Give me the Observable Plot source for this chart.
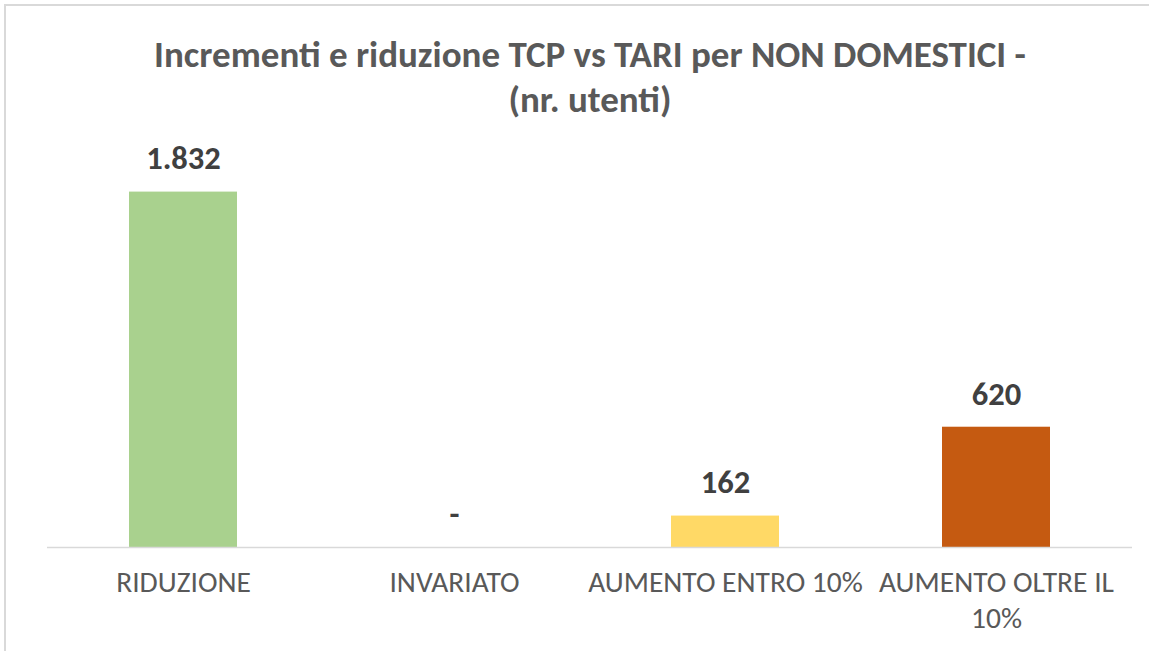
<!DOCTYPE html>
<html>
<head>
<meta charset="utf-8">
<script src="https://cdn.jsdelivr.net/npm/d3@7"></script>
<script src="https://cdn.jsdelivr.net/npm/@observablehq/plot@0.6"></script>
<style>
  html, body { margin: 0; padding: 0; background: #fff; }
  #wrap { position: relative; width: 1149px; height: 651px; overflow: hidden; font-family: Calibri, Carlito, Lato, "Open Sans", sans-serif; }
  #frame { position: absolute; left: 4px; top: 4px; right: -10px; bottom: -10px; border-top: 2px solid #d9d9d9; border-left: 2px solid #d9d9d9; }
  #title { position: absolute; left: 0; top: 32px; width: 1180px; text-align: center; color: #595959; font-weight: 700; font-size: 37px; line-height: 45px; white-space: nowrap; }
  #chart { position: absolute; left: 0; top: 130px; }
</style>
</head>
<body>
<div id="wrap">
  <div id="frame"></div>
  <div id="title">Incrementi e riduzione TCP vs TARI per NON DOMESTICI -<br>(nr. utenti)</div>
  <div id="chart"></div>
</div>
<script>
const categories = ["RIDUZIONE", "INVARIATO", "AUMENTO ENTRO 10%", "AUMENTO OLTRE IL\n10%"];
const values = [1832, 0, 162, 620];
const colors = ["#A9D18E", "#A9D18E", "#FFD966", "#C55A11"];

const data = categories.map((c, i) => ({category: c, value: values[i], color: colors[i]}));
const it = d3.formatLocale({decimal: ",", thousands: ".", grouping: [3], currency: ["", " €"]});
const fmt = v => v === 0 ? "-" : it.format(",d")(v);

const chart = Plot.plot({
  width: 1149,
  height: 521,
  marginLeft: 47,
  marginRight: 17,
  marginTop: 29,
  marginBottom: 104,
  style: {fontFamily: "Calibri, Carlito, Lato, 'Open Sans', sans-serif", color: "#595959", background: "transparent"},
  x: {domain: categories, paddingInner: 0.6, paddingOuter: 0.3, label: null},
  y: {domain: [0, 2000], axis: null},
  marks: [
    Plot.barY(data, {x: "category", y: "value", fill: "color"}),
    Plot.ruleY([0], {stroke: "#d9d9d9", strokeWidth: 1.5}),
    Plot.text(data, {x: "category", y: "value", text: d => fmt(d.value), dy: -33, fontSize: 32.5, fontWeight: 700, fill: "#404040"}),
    Plot.axisX({tickSize: 0, tickPadding: 19, fontSize: 29.5, lineHeight: 1.22, fill: "#595959", label: null})
  ]
});
document.getElementById("chart").appendChild(chart);
</script>
</body>
</html>
